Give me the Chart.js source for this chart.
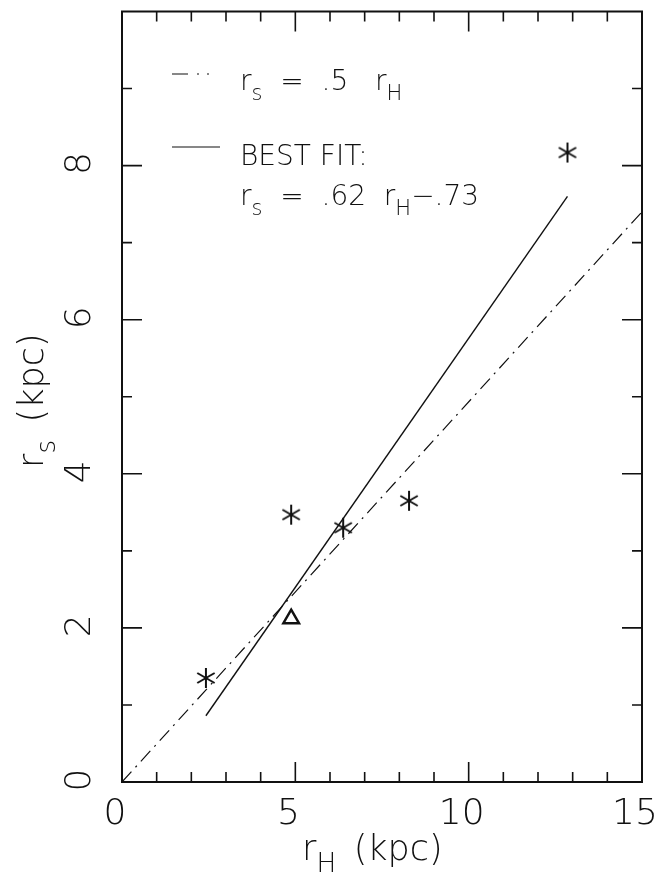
<!DOCTYPE html>
<html>
<head>
<meta charset="utf-8">
<script src="https://cdn.jsdelivr.net/npm/chart.js@4/dist/chart.umd.min.js"></script>
<style>
  html, body { margin: 0; padding: 0; background: #fff; }
</style>
</head>
<body>
<canvas id="chart" width="658" height="873"></canvas>
<script>
// data
const starX = [2.42, 4.88, 6.38, 8.28, 12.85];
const starY = [1.35, 3.47, 3.30, 3.65, 8.17];
const triX = [4.88];
const triY = [2.12];
const halfX = [0, 15];        // r_s = .5 r_H
const halfY = [0, 7.4];
const fitX = [2.42, 12.85];   // best fit
const fitY = [0.86, 7.6];
const xTicks = [0, 5, 10, 15];
const yTicks = [0, 2, 4, 6, 8];
const xMinor = [1, 2, 3, 4, 6, 7, 8, 9, 11, 12, 13, 14];
const yMinor = [1, 3, 5, 7, 9];

const FONT = '"DejaVu Sans", "Liberation Sans", sans-serif';
const INK = '#111';

// six-armed asterisk marker
function makeStar() {
  const c = document.createElement('canvas');
  c.width = 24; c.height = 24;
  const g = c.getContext('2d');
  g.strokeStyle = INK;
  g.lineWidth = 2;
  [90, 30, 150].forEach(a => {
    const r = a * Math.PI / 180;
    g.beginPath();
    g.moveTo(12 - 10 * Math.cos(r), 12 - 10 * Math.sin(r));
    g.lineTo(12 + 10 * Math.cos(r), 12 + 10 * Math.sin(r));
    g.stroke();
  });
  return c;
}

const pts = (xs, ys) => xs.map((x, i) => ({ x: x, y: ys[i] }));

// text with subscripts: parts = [[text, isSub], ...]
function richText(ctx, parts, x, y, size) {
  let cx = x;
  parts.forEach(([t, sub]) => {
    const s = sub ? size * 0.75 : size;
    ctx.font = '200 ' + s + 'px ' + FONT;
    ctx.fillText(t, cx, sub ? y + size * 0.35 : y);
    cx += ctx.measureText(t).width;
  });
  return cx - x;
}

const frame = {
  id: 'frame',
  afterDatasetsDraw(chart) {
    const { ctx, chartArea: a, scales: { x, y } } = chart;
    ctx.save();
    ctx.strokeStyle = INK;
    ctx.fillStyle = INK;
    ctx.lineWidth = 2;
    ctx.strokeRect(a.left, a.top, a.right - a.left, a.bottom - a.top);

    // inward ticks on all four sides
    ctx.lineWidth = 1.6;
    const tick = (vals, len) => {
      vals.forEach(v => {
        const px = x.getPixelForValue(v);
        ctx.beginPath();
        ctx.moveTo(px, a.bottom); ctx.lineTo(px, a.bottom - len);
        ctx.moveTo(px, a.top); ctx.lineTo(px, a.top + len);
        ctx.stroke();
      });
    };
    const ytick = (vals, len) => {
      vals.forEach(v => {
        const py = y.getPixelForValue(v);
        ctx.beginPath();
        ctx.moveTo(a.left, py); ctx.lineTo(a.left + len, py);
        ctx.moveTo(a.right, py); ctx.lineTo(a.right - len, py);
        ctx.stroke();
      });
    };
    tick(xTicks, 20); tick(xMinor, 10);
    ytick(yTicks, 20); ytick(yMinor, 10);

    // tick labels
    ctx.font = '200 36px ' + FONT;
    ctx.textAlign = 'center';
    ctx.textBaseline = 'middle';
    xTicks.forEach(v => {
      ctx.fillText(String(v), x.getPixelForValue(v) - 7, a.bottom + 33);
    });
    yTicks.forEach(v => {
      ctx.save();
      ctx.translate(a.left - 41, y.getPixelForValue(v) - 2);
      ctx.rotate(-Math.PI / 2);
      ctx.fillText(String(v), 0, 0);
      ctx.restore();
    });

    // axis titles
    ctx.textAlign = 'left';
    ctx.textBaseline = 'alphabetic';
    richText(ctx, [['r', false], ['H', true], ['\u2002(kpc)', false]], 302, 860, 35);
    ctx.save();
    ctx.translate(43, 468);
    ctx.rotate(-Math.PI / 2);
    richText(ctx, [['r', false], ['s', true], ['\u2002(kpc)', false]], 0, 0, 35);
    ctx.restore();

    // legend
    ctx.lineWidth = 1.2;
    ctx.setLineDash([16, 9, 2, 8, 2, 6]);
    ctx.beginPath(); ctx.moveTo(172, 74); ctx.lineTo(215, 74); ctx.stroke();
    ctx.setLineDash([]);
    ctx.beginPath(); ctx.moveTo(172, 147); ctx.lineTo(220, 147); ctx.stroke();
    richText(ctx, [['r', false], ['s', true], ['  =  .5   r', false], ['H', true]], 240, 90, 28);
    richText(ctx, [['BEST FIT:', false]], 240, 165, 28);
    richText(ctx, [['r', false], ['s', true], ['  =  .62  r', false], ['H', true], ['\u2212.73', false]], 240, 205, 28);
    ctx.restore();
  }
};

new Chart(document.getElementById('chart'), {
  type: 'scatter',
  data: {
    datasets: [
      {
        label: 'r_s = .5 r_H',
        data: pts(halfX, halfY),
        showLine: true,
        borderColor: INK,
        borderWidth: 1.2,
        borderDash: [14, 6, 2, 6],
        pointRadius: 0
      },
      {
        label: 'best fit',
        data: pts(fitX, fitY),
        showLine: true,
        borderColor: INK,
        borderWidth: 1.4,
        pointRadius: 0
      },
      {
        label: 'stars',
        data: pts(starX, starY),
        pointStyle: makeStar(),
        pointRadius: 10
      },
      {
        label: 'triangle',
        data: pts(triX, triY),
        pointStyle: 'triangle',
        pointRadius: 9,
        borderColor: INK,
        borderWidth: 2.5,
        backgroundColor: 'rgba(0,0,0,0)'
      }
    ]
  },
  options: {
    responsive: false,
    animation: false,
    devicePixelRatio: 1,
    layout: { padding: { left: 122, right: 16, top: 10, bottom: 91 } },
    plugins: { legend: { display: false }, tooltip: { enabled: false } },
    scales: {
      x: { type: 'linear', min: 0, max: 15, display: false },
      y: { type: 'linear', min: 0, max: 10, display: false }
    }
  },
  plugins: [frame]
});
</script>
</body>
</html>
